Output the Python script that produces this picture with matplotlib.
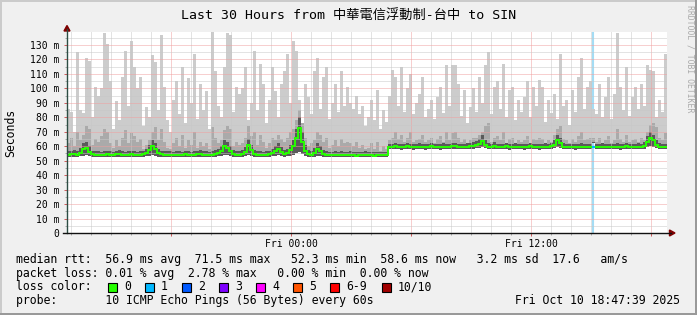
import datetime as dt
import numpy as np
import matplotlib
matplotlib.use('Agg')
import matplotlib.pyplot as plt
import matplotlib.dates as mdates
from matplotlib.patches import Rectangle, Polygon
from matplotlib.lines import Line2D
from matplotlib.ticker import MultipleLocator, FuncFormatter

plt.rcParams['font.family'] = ['DejaVu Sans Mono', 'Noto Sans CJK TC']

W, H = 697, 315

# 200 steps of 9 minutes = last 30 hours
start = dt.datetime(2025, 10, 9, 12, 47, 39)
step_minutes = 9

# smoke: highest ping per step (ms)
top = [86, 84, 70, 125, 85, 83, 121, 119, 80, 101,
       95, 100, 138, 131, 105, 72, 91, 78, 108, 126,
       88, 133, 115, 100, 108, 74, 87, 80, 123, 118,
       85, 137, 101, 78, 70, 92, 105, 82, 115, 76,
       107, 90, 124, 79, 103, 85, 98, 72, 139, 112,
       88, 80, 115, 138, 137, 84, 101, 96, 100, 115,
       78, 90, 126, 85, 117, 103, 76, 92, 115, 98,
       80, 103, 112, 124, 90, 133, 126, 92, 75, 103,
       94, 82, 112, 121, 86, 108, 115, 79, 90, 103,
       84, 112, 88, 101, 90, 86, 95, 82, 88, 74,
       80, 92, 78, 99, 72, 85, 77, 95, 113, 108,
       88, 115, 84, 100, 110, 82, 90, 96, 108, 80,
       86, 92, 79, 94, 101, 83, 116, 88, 116, 116,
       103, 81, 99, 76, 87, 100, 84, 108, 90, 116,
       125, 82, 101, 105, 86, 117, 80, 99, 101, 78,
       92, 84, 94, 105, 80, 101, 88, 106, 101, 77,
       92, 83, 96, 79, 124, 88, 92, 75, 99, 84,
       108, 121, 86, 101, 105, 86, 82, 103, 80, 94,
       108, 79, 96, 138, 101, 85, 115, 81, 94, 101,
       86, 103, 88, 116, 113, 112, 80, 92, 84, 124]

# smoke: upper pings
mid = [62, 66, 60, 70, 64, 68, 74, 72, 61, 65,
       63, 67, 72, 70, 62, 59, 64, 60, 66, 71,
       62, 69, 67, 63, 65, 58, 61, 64, 70, 73,
       64, 72, 63, 59, 58, 62, 66, 60, 68, 59,
       64, 61, 70, 59, 63, 60, 62, 58, 73, 66,
       62, 64, 71, 74, 72, 60, 63, 61, 62, 66,
       74, 67, 70, 61, 68, 63, 59, 62, 66, 64,
       68, 65, 63, 66, 70, 72, 78, 85, 76, 66,
       60, 62, 64, 70, 68, 63, 66, 59, 61, 64,
       60, 65, 62, 63, 62, 60, 63, 59, 61, 58,
       59, 62, 58, 63, 57, 60, 58, 64, 66, 70,
       65, 68, 63, 66, 70, 63, 64, 65, 68, 63,
       64, 66, 62, 65, 67, 63, 70, 64, 69, 70,
       66, 63, 65, 62, 64, 66, 66, 68, 70, 74,
       76, 63, 66, 67, 64, 70, 62, 65, 66, 62,
       64, 63, 64, 67, 62, 65, 64, 66, 65, 62,
       64, 63, 68, 72, 74, 65, 64, 62, 65, 63,
       67, 70, 64, 65, 66, 66, 63, 66, 62, 64,
       67, 62, 64, 72, 65, 63, 68, 63, 64, 65,
       63, 66, 64, 70, 75, 76, 73, 66, 64, 69]

# smoke: pings next to the median
inner = [56.5, 57.0, 57.5, 57.0, 59.0, 62.0, 63.0, 60.0, 57.0, 56.5,
         56.8, 56.2, 56.5, 57.0, 56.6, 56.3, 56.8, 57.2, 56.5, 56.2,
         56.7, 57.0, 56.5, 56.2, 56.6, 57.0, 58.0, 61.0, 64.0, 62.0,
         58.0, 57.0, 56.4, 56.6, 56.5, 56.2, 56.8, 56.5, 56.3, 57.0,
         56.6, 56.2, 56.5, 57.0, 57.4, 56.5, 56.8, 56.3, 56.6, 57.2,
         58.0, 60.0, 64.0, 63.0, 60.5, 57.4, 56.5, 56.8, 57.2, 59.5,
         65.0, 61.0, 57.6, 56.8, 56.5, 56.2, 56.6, 57.0, 58.0, 60.0,
         62.0, 59.5, 57.2, 58.0, 61.0, 64.0, 72.0, 80.0, 70.0, 61.0,
         57.2, 56.6, 58.5, 62.0, 60.5, 57.5, 56.5, 56.0, 56.2, 56.5,
         56.2, 56.6, 56.3, 56.0, 56.5, 56.2, 55.9, 56.3, 56.1, 56.5,
         56.0, 56.2, 55.9, 56.3, 56.1, 56.0, 56.2, 61.5, 61.8, 62.3,
         61.6, 61.4, 61.8, 62.0, 61.5, 61.3, 61.6, 61.9, 61.5, 61.4,
         61.8, 62.0, 61.5, 61.7, 61.4, 61.9, 61.6, 61.5, 62.0, 62.5,
         61.8, 61.5, 61.7, 62.0, 62.3, 62.8, 63.5, 65.0, 68.0, 64.0,
         62.0, 61.6, 63.0, 61.8, 61.5, 61.7, 62.0, 61.4, 61.7, 61.9,
         61.5, 61.8, 61.4, 61.7, 62.0, 61.5, 61.8, 61.4, 61.7, 62.0,
         61.7, 62.3, 64.0, 68.0, 66.0, 62.0, 61.7, 61.5, 61.8, 61.4,
         61.7, 61.9, 61.5, 61.8, 61.7, 63.0, 61.8, 61.5, 61.9, 61.7,
         61.5, 61.8, 61.7, 62.0, 61.4, 61.7, 62.1, 61.8, 61.5, 61.7,
         62.0, 61.8, 63.0, 67.0, 70.0, 68.0, 64.0, 62.0, 61.7, 61.5]

# lowest ping per step
low = [52.8, 52.6, 52.9, 52.7, 53.0, 53.4, 53.6, 53.0, 52.7, 52.5,
       52.8, 52.6, 52.4, 52.7, 52.9, 52.6, 52.5, 52.8, 52.7, 52.4,
       52.6, 52.9, 52.7, 52.5, 52.8, 52.6, 53.0, 53.5, 54.0, 53.4,
       52.8, 52.6, 52.4, 52.7, 52.5, 52.3, 52.6, 52.8, 52.5, 52.7,
       52.6, 52.4, 52.7, 52.9, 52.6, 52.5, 52.8, 52.4, 52.6, 52.9,
       53.0, 53.4, 54.0, 53.8, 53.2, 52.8, 52.5, 52.7, 52.9, 53.2,
       54.0, 53.2, 52.8, 52.6, 52.5, 52.4, 52.7, 52.8, 53.0, 53.3,
       53.6, 53.0, 52.8, 53.0, 53.4, 54.0, 55.0, 56.0, 54.5, 53.2,
       52.6, 52.4, 52.9, 53.5, 53.2, 52.7, 52.4, 52.3, 52.5, 52.6,
       52.3, 52.6, 52.4, 52.3, 52.5, 52.4, 52.3, 52.5, 52.4, 52.6,
       52.3, 52.5, 52.3, 52.6, 52.4, 52.3, 52.5, 57.8, 58.0, 58.3,
       57.9, 57.7, 58.0, 58.2, 57.8, 57.6, 57.9, 58.1, 57.8, 57.7,
       58.0, 58.1, 57.8, 57.9, 57.7, 58.0, 57.9, 57.8, 58.1, 58.3,
       57.9, 57.8, 57.9, 58.0, 58.2, 58.4, 58.6, 59.0, 59.6, 59.0,
       58.1, 57.8, 58.4, 57.9, 57.8, 57.9, 58.1, 57.7, 57.9, 58.0,
       57.8, 57.9, 57.7, 57.9, 58.1, 57.8, 57.9, 57.7, 57.9, 58.0,
       57.9, 58.2, 58.7, 59.5, 59.0, 58.0, 57.9, 57.8, 57.9, 57.7,
       57.9, 58.0, 57.8, 57.9, 57.8, 62.0, 57.9, 57.8, 58.0, 57.9,
       57.8, 57.9, 57.9, 58.0, 57.7, 57.9, 58.1, 57.9, 57.8, 57.9,
       58.0, 57.9, 58.4, 59.2, 60.0, 59.5, 58.6, 58.0, 57.9, 57.8]

median = [54.0, 54.3, 54.6, 54.2, 55.5, 58.0, 58.5, 56.0, 54.4, 54.0,
          54.2, 53.8, 54.0, 54.5, 54.1, 53.9, 54.3, 54.6, 54.0, 53.8,
          54.2, 54.4, 54.0, 53.7, 54.1, 54.3, 55.0, 57.5, 60.0, 58.2,
          55.0, 54.3, 53.9, 54.1, 54.0, 53.8, 54.2, 54.0, 53.9, 54.4,
          54.1, 53.8, 54.0, 54.3, 54.6, 54.0, 54.2, 53.9, 54.1, 54.5,
          55.0, 56.5, 60.0, 59.0, 57.0, 54.6, 54.0, 54.2, 54.5, 56.0,
          61.0, 57.5, 54.8, 54.2, 54.0, 53.8, 54.1, 54.3, 55.0, 56.5,
          58.0, 56.0, 54.5, 55.0, 57.5, 60.0, 66.0, 72.5, 63.0, 57.0,
          54.5, 54.0, 55.5, 58.0, 57.0, 54.8, 54.0, 53.6, 53.8, 54.0,
          53.7, 54.1, 53.9, 53.6, 54.0, 53.8, 53.5, 53.9, 53.7, 54.0,
          53.6, 53.8, 53.5, 53.9, 53.7, 53.6, 53.8, 59.5, 59.8, 60.2,
          59.6, 59.4, 59.7, 60.0, 59.5, 59.3, 59.6, 59.8, 59.5, 59.4,
          59.7, 59.9, 59.5, 59.6, 59.4, 59.8, 59.6, 59.5, 59.9, 60.2,
          59.7, 59.5, 59.6, 59.8, 60.0, 60.3, 60.6, 61.5, 63.5, 61.0,
          59.8, 59.5, 60.5, 59.7, 59.5, 59.6, 59.9, 59.4, 59.6, 59.8,
          59.5, 59.7, 59.4, 59.6, 59.9, 59.5, 59.7, 59.4, 59.6, 59.8,
          59.6, 60.0, 61.0, 64.5, 62.5, 59.8, 59.6, 59.5, 59.7, 59.4,
          59.6, 59.8, 59.5, 59.7, 59.6, 59.6, 59.7, 59.5, 59.8, 59.6,
          59.5, 59.7, 59.6, 59.8, 59.4, 59.6, 59.9, 59.7, 59.5, 59.6,
          59.8, 59.7, 60.5, 63.0, 65.5, 64.0, 61.0, 59.8, 59.6, 59.5]

loss_steps = [175]  # step with 1/10 lost

loss_labels = ['0', '1', '2', '3', '4', '5', '6-9', '10/10']
loss_colors = ['#26ff00', '#00b8ff', '#0059ff', '#7e00ff', '#ff00ff',
               '#ff5500', '#ff0000', '#a10000']
loss_box_x = [108, 145, 182, 219, 256, 293, 330, 382]

legend_lines = [
    'median rtt:  56.9 ms avg  71.5 ms max   52.3 ms min  58.6 ms now   3.2 ms sd  17.6   am/s',
    'packet loss: 0.01 % avg  2.78 % max   0.00 % min  0.00 % now',
    'loss color:',
    'probe:       10 ICMP Echo Pings (56 Bytes) every 60s',
]
stamp = 'Fri Oct 10 18:47:39 2025'
title = 'Last 30 Hours from 中華電信浮動制-台中 to SIN'

n = len(top)
edges = mdates.date2num([start + dt.timedelta(minutes=step_minutes * i) for i in range(n + 1)])


def fx(x):
    return x / W


def fy(y):
    return 1 - y / H


fig = plt.figure(figsize=(W / 100, H / 100), dpi=100, facecolor='#f0f0f0')
ax = fig.add_axes([fx(67), fy(233), 600 / W, 201 / H])
ax.set_facecolor('white')

# loss marker line behind the smoke
for s in loss_steps:
    ax.axvline((edges[s] + edges[s + 1]) / 2, color='#a4dcf4', lw=1.5, zorder=0.5)

ax.stairs(top, edges, baseline=low, fill=True, color='#cccccc', lw=0, zorder=1)
ax.stairs(mid, edges, baseline=low, fill=True, color='#aaaaaa', lw=0, zorder=1.1)
ax.stairs(inner, edges, baseline=low, fill=True, color='#5a5a5a', lw=0, zorder=1.2)
ax.stairs(median, edges, baseline=None, color='#26ff00', lw=1.4, zorder=3)
for s in loss_steps:
    ax.stairs([median[s]], edges[s:s + 2], baseline=None, color='#00b8ff', lw=1.6, zorder=3.1)

ax.set_xlim(edges[0], edges[-1])
ax.set_ylim(0, 139)

ax.xaxis.set_major_locator(mdates.HourLocator(byhour=[0, 6, 12, 18]))
ax.xaxis.set_minor_locator(mdates.HourLocator())


def fmt_time(v, pos):
    d = mdates.num2date(v)
    return d.strftime('%a %H:%M') if d.hour in (0, 12) else ''


ax.xaxis.set_major_formatter(FuncFormatter(fmt_time))
ax.yaxis.set_major_locator(MultipleLocator(10))
ax.yaxis.set_minor_locator(MultipleLocator(5))
ax.yaxis.set_major_formatter(FuncFormatter(lambda v, p: '0' if v == 0 else '%d m' % v))

ax.set_axisbelow(False)
ax.grid(which='major', color='#f0a0a0', linestyle=(0, (1, 1)), lw=0.72)
ax.grid(which='minor', color='#c8c8c8', linestyle=(0, (1, 1)), lw=0.72)

ax.tick_params(which='major', length=2, width=0.72, color='#d06060', labelsize=7, labelcolor='black')
ax.tick_params(which='minor', length=1.5, width=0.72, color='#aaaaaa')
ax.tick_params(axis='x', pad=2.6)
ax.tick_params(axis='y', pad=3.6)
for sp in ax.spines.values():
    sp.set_visible(False)

# axes with arrows
fig.add_artist(Line2D([fx(67), fx(67)], [fy(233), fy(29)], color='#2c4d43', lw=1.0))
fig.add_artist(Line2D([fx(63), fx(671)], [fy(233), fy(233)], color='#111111', lw=1.0))
fig.add_artist(Polygon([(fx(67), fy(25.5)), (fx(64), fy(31)), (fx(70), fy(31))],
                       closed=True, color='#7f0000'))
fig.add_artist(Polygon([(fx(675), fy(233)), (fx(669.5), fy(230)), (fx(669.5), fy(236))],
                       closed=True, color='#7f0000'))

# frame
fig.add_artist(Rectangle((0, fy(2)), 1, 2 / H, color='#cbcbcb', lw=0))
fig.add_artist(Rectangle((0, 0), 2 / W, 1, color='#cbcbcb', lw=0))
fig.add_artist(Rectangle((0, 0), 1, 2 / H, color='#999999', lw=0))
fig.add_artist(Rectangle((fx(W - 2), 0), 2 / W, 1, color='#999999', lw=0))

fig.text(0.5, fy(19), title, ha='center', va='baseline', fontsize=9.5)
fig.text(fx(10.8), fy(132.5), 'Seconds', rotation=90, ha='center', va='center', fontsize=8.3)
fig.text(fx(690), fy(5), 'RRDTOOL / TOBI OETIKER', rotation=270, ha='center', va='top',
         fontsize=5.9, color='#aaaaaa')

for line, base in zip(legend_lines, [262.7, 276.6, 290.4, 304.3]):
    fig.text(fx(16), fy(base), line, ha='left', va='baseline', fontsize=8.3)
fig.text(fx(680), fy(304.3), stamp, ha='right', va='baseline', fontsize=8.3)

for lab, col, bx in zip(loss_labels, loss_colors, loss_box_x):
    fig.add_artist(Rectangle((fx(bx), fy(291.5)), 8.5 / W, 8.5 / H, facecolor=col,
                             edgecolor='black', lw=0.8))
    fig.text(fx(bx + 16), fy(290.4), lab, ha='left', va='baseline', fontsize=8.3)

fig.savefig('out.png', dpi=100, facecolor=fig.get_facecolor())
